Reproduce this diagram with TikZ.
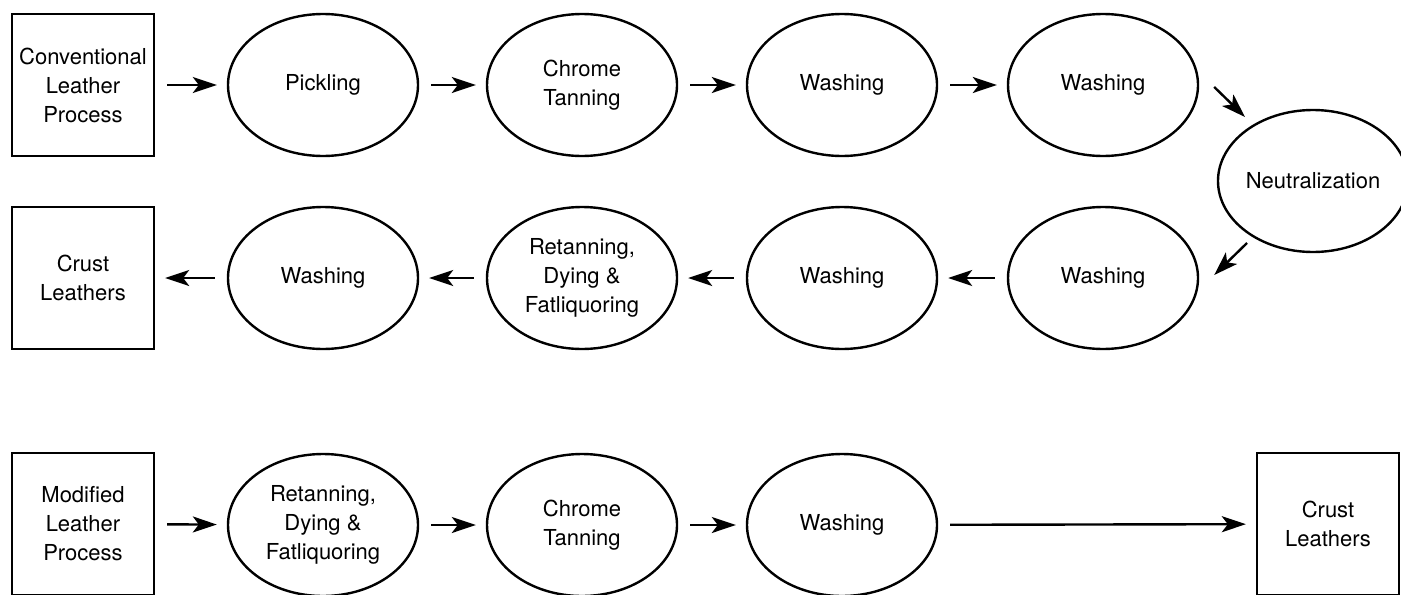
\documentclass[tikz,border=0pt]{standalone}
\usepackage{fontspec}
\setmainfont{TeX Gyre Heros}
\usetikzlibrary{arrows.meta,shapes.geometric}
\tikzset{
  stagebox/.style={draw, line width=1.2pt, minimum width=71pt, minimum height=71pt,
    inner sep=0pt, align=center, font=\fontsize{11}{14.5}\selectfont},
  stage/.style={draw, ellipse, line width=1.2pt, minimum width=95pt, minimum height=71pt,
    inner sep=0pt, align=center, font=\fontsize{11}{14.5}\selectfont},
  flow/.style={-{Stealth[length=12pt,width=8pt,inset=3pt]}, line width=1.2pt,
    shorten >=5pt, shorten <=6pt}
}
\begin{document}
\begin{tikzpicture}[x=0.5pt,y=-0.5pt]
      \useasboundingbox (0,0) rectangle (1401,594);
      % conventional route
      \draw
        (83,85) node[stagebox] (conv){Conventional\\Leather\\Process}
        (323,85) node[stage] (pick){Pickling}
        (582,85) node[stage] (chrome){Chrome\\Tanning}
        (842,85) node[stage] (washa){Washing}
        (1103,85) node[stage] (washb){Washing}
        (1313,181) node[stage] (neut){Neutralization}
        (1103,278) node[stage] (washc){Washing}
        (842,278) node[stage] (washd){Washing}
        (582,278) node[stage] (retan){Retanning,\\Dying \&\\Fatliquoring}
        (323,278) node[stage] (washe){Washing}
        (83,278) node[stagebox] (crust){Crust\\Leathers};
      % modified route
      \draw
        (83,524) node[stagebox] (mod){Modified\\Leather\\Process}
        (323,525) node[stage] (mretan){Retanning,\\Dying \&\\Fatliquoring}
        (582,525) node[stage] (mchrome){Chrome\\Tanning}
        (842,525) node[stage] (mwash){Washing}
        (1328,524) node[stagebox] (mcrust){Crust\\Leathers};
      \begin{scope}[flow]
        \draw (conv) to (pick);
        \draw (pick) to (chrome);
        \draw (chrome) to (washa);
        \draw (washa) to (washb);
        \draw[shorten <=0pt, shorten >=0pt] ([shift={(15,2)}]washb.east) to ([shift={(-68,-64)}]neut.center);
        \draw[shorten <=0pt, shorten >=0pt] ([shift={(-66,62)}]neut.center) to ([shift={(15,-3)}]washc.east);
        \draw (washc) to (washd);
        \draw (washd) to (retan);
        \draw (retan) to (washe);
        \draw (washe) to (crust);
        \draw (mod) to (mretan);
        \draw (mretan) to (mchrome);
        \draw (mchrome) to (mwash);
        \draw (mwash) to (mcrust);
      \end{scope}
    \end{tikzpicture}
\end{document}
